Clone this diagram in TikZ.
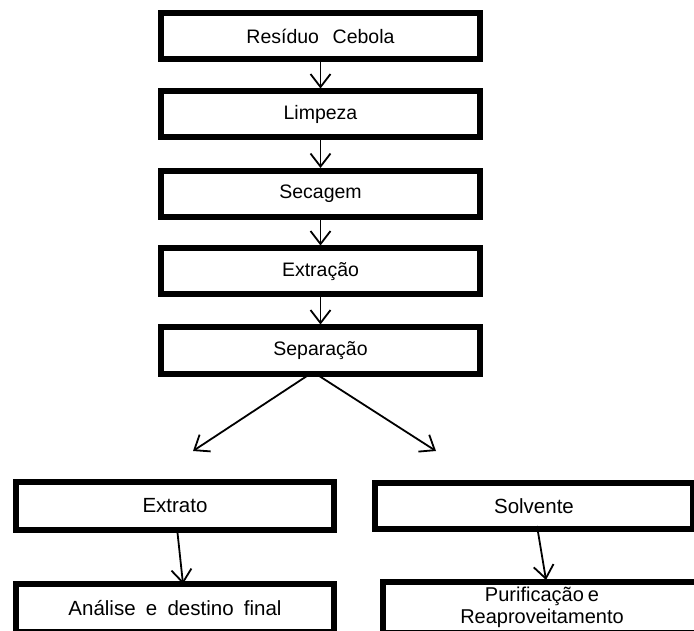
\documentclass[tikz,border=0pt]{standalone}
\usepackage{fontspec}
\setmainfont{Liberation Sans}
\usetikzlibrary{arrows.meta}
\newcommand\topfnt{\fontsize{19.5}{23}\selectfont\spaceskip 0.7em\relax}
\newcommand\lowfnt{\fontsize{20.5}{22}\selectfont\spaceskip 0.5em\relax}
\newcommand\purfnt{\fontsize{20}{21.5}\selectfont\spaceskip 0.2em\relax}
\tikzset{
  topbox/.style={draw=black, line width=6pt, fill=white, inner sep=0pt,
    minimum width=319pt, minimum height=46pt, font=\topfnt, align=center},
  lowbox/.style={draw=black, line width=6pt, fill=white, inner sep=0pt,
    minimum width=318pt, minimum height=48pt, font=\lowfnt, align=center},
  flow/.style={draw=black, line width=1.8pt, -{Straight Barb[length=13pt,width=20pt,line width=1.8pt]}}
}
\begin{document}
\begin{tikzpicture}[x=1pt,y=-1pt]
\clip (0,0) rectangle (694,631);
\fill[white] (0,0) rectangle (694,631);
\node[topbox] (res) at (320.5,36) {Resíduo Cebola};
\node[topbox] (lim) at (320.5,114.5) {Limpeza};
\node[topbox] (sec) at (320.5,194) {Secagem};
\node[topbox] (ext) at (320.5,271.5) {Extração};
\node[topbox] (sep) at (320.5,350.5) {Separação};
\node[lowbox] (xtr) at (175,506) {Extrato};
\node[lowbox, minimum height=46pt] (sol) at (534,506) {Solvente};
\node[lowbox] (ana) at (175,608) {Análise e destino final};
\node[lowbox, minimum height=51pt, font=\purfnt] (pur) at (542,607.5) {Purificação e\\Reaproveitamento};
\draw[flow] (res.south) -- (lim.north);
\draw[flow] (lim.south) -- (sec.north);
\draw[flow] (sec.south) -- (ext.north);
\draw[flow] (ext.south) -- (sep.north);
\coordinate (split) at ([xshift=-7.5pt,yshift=4.5pt]sep.south);
\coordinate (lt) at (193,451);
\coordinate (rt) at (436,451);
\draw[flow] (split) -- (lt);
\draw[flow] (split) -- (rt);
\draw[flow] ([xshift=2pt,yshift=5pt]xtr.south) -- ([xshift=8pt,yshift=-3pt]ana.north);
\draw[flow] ([xshift=3pt,yshift=6pt]sol.south) -- ([xshift=4pt,yshift=-1pt]pur.north);
\end{tikzpicture}
\end{document}
